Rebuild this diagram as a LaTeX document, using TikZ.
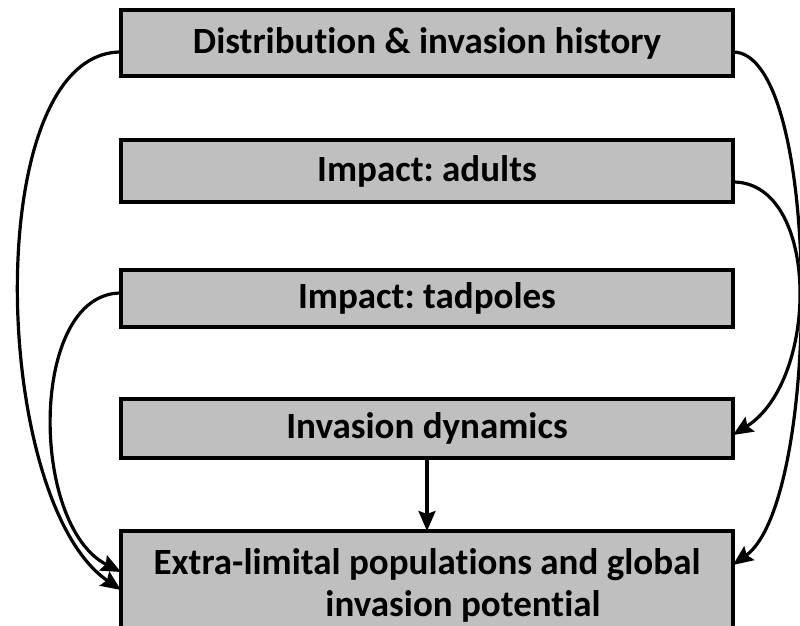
\documentclass[tikz,border=0pt]{standalone}
\usepackage{fontspec}
\setmainfont{Carlito}[Ligatures=NoCommon]
\usetikzlibrary{arrows.meta}
\frenchspacing

\definecolor{cbfbfbf}{RGB}{191,191,191}
\definecolor{c000000}{RGB}{0,0,0}
\def \globalscale {1.000000}

\begin{document}
\begin{tikzpicture}[y=1pt, x=1pt, yscale=\globalscale,xscale=\globalscale, every node/.append style={scale=\globalscale}, inner sep=0pt, outer sep=0pt,
  box/.style={draw=c000000,fill=cbfbfbf,line width=3.4pt,minimum width=612pt,font=\fontsize{37}{42}\selectfont\bfseries,align=center},
  link/.style={draw=c000000,line width=3.2pt,-{Stealth[length=20pt,width=17pt,inset=3pt]}}]
  \useasboundingbox (0.0, 0.0) rectangle (800.0, 625.0);



  \node[box,minimum height=66pt,anchor=north] (dist) at (427.0, 615.0){Distribution \& invasion history};



  \node[box,minimum height=62pt,anchor=north] (adults) at (427.0, 485.0){Impact: adults};



  \node[box,minimum height=57pt,anchor=north] (tadpoles) at (427.0, 355.0){Impact: tadpoles};



  \node[box,minimum height=59pt,anchor=north] (dyn) at (427.0, 226.0){Invasion dynamics};



  \node[box,minimum height=108pt,anchor=north] (extra) at (427.0, 94.0){Extra-limital populations and global\\\hspace*{72pt}invasion potential};



  \path[link] ([yshift=-9pt]dist.west) .. controls +(-141, 0) and +(-131, 90) .. ([yshift=-59pt]extra.north west);



  \path[link] ([yshift=5.5pt]tadpoles.west) .. controls +(-92, 0) and +(-92, 47) .. ([yshift=-41pt]extra.north west);



  \path[link] ([yshift=-9pt]dist.east) .. controls +(89, 0) and +(89, 65) .. ([yshift=-34pt]extra.north east);



  \path[link] ([yshift=-11pt]adults.east) .. controls +(87, 0) and +(87, 55) .. ([yshift=-6.5pt]dyn.east);



  \path[link] (dyn.south) -- (extra.north);




\end{tikzpicture}
\end{document}
